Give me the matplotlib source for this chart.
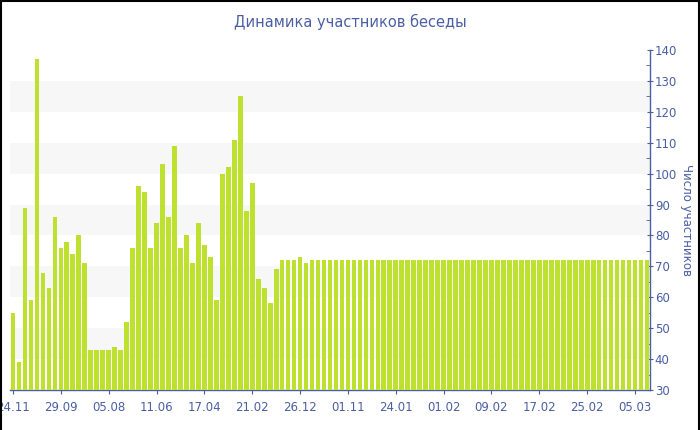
import numpy as np
import matplotlib
matplotlib.use("Agg")
import matplotlib.pyplot as plt
from matplotlib.lines import Line2D
from matplotlib.ticker import MultipleLocator

# participants per snapshot
members = [55, 39, 89, 59, 137, 68, 63, 86, 76, 78, 74, 80, 71, 43, 43, 43, 43, 44, 43, 52,
           76, 96, 94, 76, 84, 103, 86, 109, 76, 80, 71, 84, 77, 73, 59, 100, 102, 111, 125, 88,
           97, 66, 63, 58, 69, 72, 72, 72, 73, 71] + [72] * 57

tick_labels = ['24.11', '29.09', '05.08', '11.06', '17.04', '21.02', '26.12',
               '01.11', '24.01', '01.02', '09.02', '17.02', '25.02', '05.03']
tick_step = 8

title = 'Динамика участников беседы'
ylabel = 'Число участников'

blue = '#4a5fa3'
bar_color = '#bde12e'

fig = plt.figure(figsize=(7, 4.3), dpi=100)
ax = fig.add_axes([10/700, 40/430, 640/700, 340/430])

x = np.arange(len(members))
ax.bar(x, np.array(members) - 30, bottom=30, width=0.78, color=bar_color, zorder=3)

# background bands
for lo in range(40, 140, 20):
    ax.axhspan(lo, lo + 10, color='#f7f7f7', zorder=0, lw=0)

ax.set_xlim(-0.5, len(members) - 0.5)
ax.set_ylim(30, 140)

ax.yaxis.tick_right()
ax.yaxis.set_label_position('right')
ax.yaxis.set_major_locator(MultipleLocator(10))
ax.yaxis.set_minor_locator(MultipleLocator(5))
ax.tick_params(axis='y', which='major', direction='inout', length=5, color=blue,
               labelcolor=blue, labelsize=8.5, pad=1)
ax.tick_params(axis='y', which='minor', direction='in', length=3, color=blue)

ax.set_xticks(x[::tick_step][:len(tick_labels)])
ax.set_xticklabels(tick_labels)
ax.tick_params(axis='x', direction='out', length=3, color=blue, labelcolor=blue,
               labelsize=8.5, pad=5)

for s in ['top', 'left']:
    ax.spines[s].set_visible(False)
for s in ['bottom', 'right']:
    ax.spines[s].set_color(blue)
    ax.spines[s].set_linewidth(1)

ax.set_ylabel(ylabel, rotation=270, color=blue, fontsize=8.5, labelpad=11)
fig.text(0.5, 1 - 22/430, title, ha='center', va='center', color=blue, fontsize=10.5)

# frame around the picture
for xs, ys in [([0.001, 0.001], [0, 1]), ([0.999, 0.999], [0, 1]), ([0, 1], [0.998, 0.998])]:
    fig.add_artist(Line2D(xs, ys, color='black', lw=1.5, transform=fig.transFigure))

fig.savefig('out.png', dpi=100)
